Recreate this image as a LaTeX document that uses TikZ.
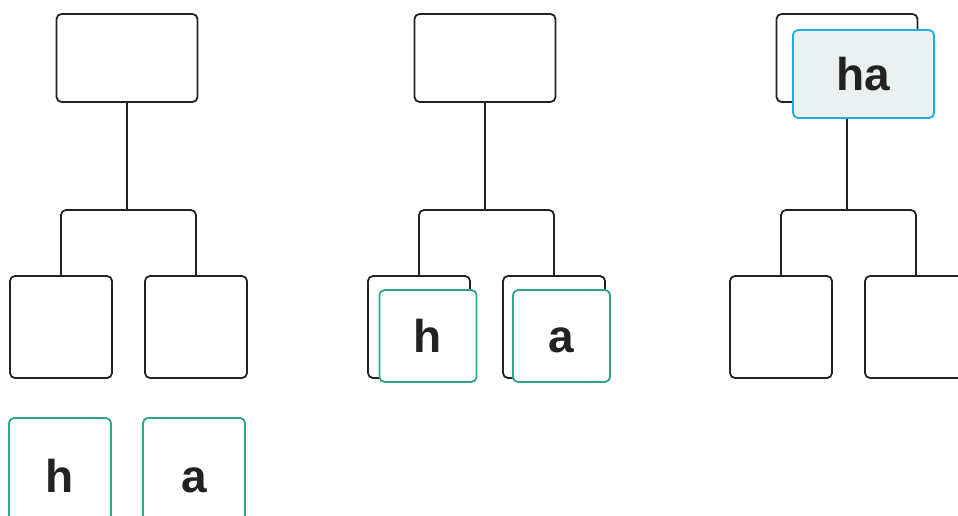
\documentclass[tikz,border=0pt]{standalone}
\usepackage{fontspec}
\newfontfamily\tilefont{Liberation Sans}
\definecolor{ink}{HTML}{222222}
\definecolor{tilegreen}{HTML}{2CA58A}
\definecolor{mergeblue}{HTML}{1CAEE4}
\definecolor{mergefill}{HTML}{EBF1F1}
\begin{document}
\begin{tikzpicture}[
    x=1pt, y=-1pt,
    box/.style={rectangle, draw=ink, line width=1.8pt, rounded corners=5pt, fill=white, inner sep=0pt},
    wide/.style={box, minimum width=141pt, minimum height=88pt},
    leaf/.style={box, minimum width=102pt, minimum height=102pt},
    tile/.style={rectangle, draw=tilegreen, line width=1.8pt, rounded corners=5pt, fill=white, inner sep=0pt,
        text=ink, text height=33pt, text depth=0pt,
        font=\tilefont\bfseries\fontsize{46}{50}\selectfont},
    merged/.style={tile, draw=mergeblue, fill=mergefill, minimum width=141pt, minimum height=88pt},
    link/.style={draw=ink, line width=1.8pt, rounded corners=5pt}
]
\useasboundingbox (0,0) rectangle (958,516);

% Trees
\node[wide] (r1) at (127,58) {};
\node[leaf] (l1a) at (61,327) {};
\node[leaf] (l1b) at (196,327) {};
\node[wide] (r2) at (485,58) {};
\node[leaf] (l2a) at (419,327) {};
\node[leaf] (l2b) at (554,327) {};
\node[wide] (r3) at (847,58) {};
\node[leaf] (l3a) at (781,327) {};
\node[leaf] (l3b) at (916,327) {};

% Links
\foreach \t in {1,2,3} {
    \coordinate (j\t) at (r\t.south |- 0,210);
    \draw[link] (r\t.south) -- (j\t);
    \draw[link] (l\t a) |- (j\t) -| (l\t b);
}

% Tiles
\node[tile, minimum width=102pt, minimum height=116pt] (g1a) at (60,476) {h};
\node[tile, minimum width=102pt, minimum height=116pt] (g1b) at (194,476) {a};
\node[tile, minimum width=97pt, minimum height=92pt] (g2a) at (428,336) {h};
\node[tile, minimum width=97pt, minimum height=92pt] (g2b) at (561.5,336) {a};
\node[merged] (m3) at (863.5,74) {ha};
\end{tikzpicture}
\end{document}
